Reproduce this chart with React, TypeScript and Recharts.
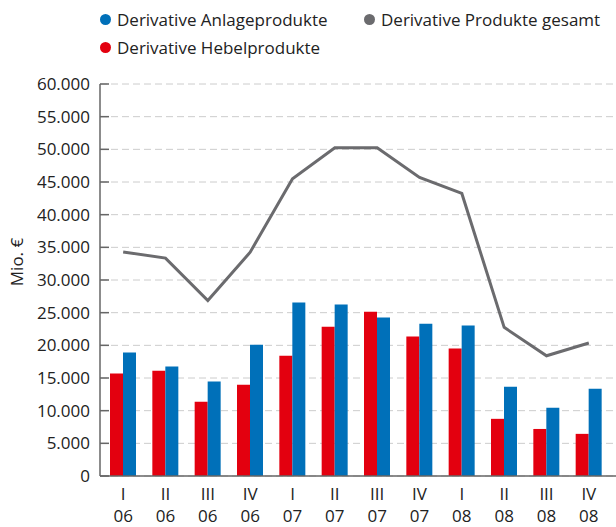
import React from 'react';
import { ComposedChart, Bar, Line, XAxis, YAxis, CartesianGrid, Legend } from 'recharts';

const quarters = ['I', 'II', 'III', 'IV', 'I', 'II', 'III', 'IV', 'I', 'II', 'III', 'IV'];
const years = ['06', '06', '06', '06', '07', '07', '07', '07', '08', '08', '08', '08'];

const hebel = [15700, 16100, 11350, 13950, 18400, 22850, 25150, 21350, 19500, 8750, 7200, 6450];
const anlage = [18900, 16750, 14450, 20100, 26550, 26250, 24250, 23300, 23050, 13650, 10450, 13350];
const gesamt = [34300, 33350, 26850, 34250, 45500, 50250, 50250, 45700, 43250, 22750, 18400, 20350];

const yTicks = [0, 5000, 10000, 15000, 20000, 25000, 30000, 35000, 40000, 45000, 50000, 55000, 60000];

const RED = '#e3000f';
const BLUE = '#0070b9';
const GRAY = '#6b6b6e';
const AXIS = '#666666';
const FONT = '"Open Sans", sans-serif';

const data = quarters.map((q, i) => ({
  cat: `${q}\n${years[i]}`,
  hebel: hebel[i],
  anlage: anlage[i],
  gesamt: gesamt[i],
}));

const fmt = (v: number) => String(v).replace(/\B(?=(\d{3})+(?!\d))/g, '.');

const YTick = (props: any) => {
  const { x, y, payload } = props;
  return (
    <g>
      <line x1={x + 10} x2={x + 19} y1={y} y2={y} stroke={AXIS} strokeWidth={1.5} />
      <text x={x} y={y} dy={6} textAnchor="end" fill="#222" fontSize={17} fontFamily={FONT}>
        {fmt(payload.value)}
      </text>
    </g>
  );
};

const XTick = (props: any) => {
  const { x, y, payload } = props;
  const [q, yr] = String(payload.value).split('\n');
  return (
    <g>
      <text x={x} y={y + 24} textAnchor="middle" fill="#222" fontSize={17} fontFamily={FONT}>{q}</text>
      <text x={x} y={y + 46} textAnchor="middle" fill="#222" fontSize={17} fontFamily={FONT}>{yr}</text>
    </g>
  );
};

const legendItems = [
  { label: 'Derivative Anlageprodukte', color: BLUE },
  { label: 'Derivative Produkte gesamt', color: GRAY },
  { label: 'Derivative Hebelprodukte', color: RED },
];

const LegendBox = () => (
  <div
    style={{
      height: 84,
      paddingLeft: 100,
      display: 'grid',
      gridTemplateColumns: '264px auto',
      gridAutoRows: '28px',
      paddingTop: 5,
      boxSizing: 'border-box',
      fontFamily: FONT,
      fontSize: 17,
      color: '#222',
    }}
  >
    {legendItems.map((it) => (
      <div key={it.label} style={{ display: 'flex', alignItems: 'center', whiteSpace: 'nowrap' }}>
        <span
          style={{
            display: 'inline-block',
            width: 11,
            height: 11,
            borderRadius: '50%',
            background: it.color,
            marginRight: 6,
          }}
        />
        {it.label}
      </div>
    ))}
  </div>
);

const YLabel = (props: any) => {
  const { viewBox } = props;
  const cx = viewBox.x + 16;
  const cy = viewBox.y + viewBox.height / 2 - 18;
  return (
    <text
      x={cx}
      y={cy}
      transform={`rotate(-90 ${cx} ${cy})`}
      textAnchor="middle"
      dominantBaseline="central"
      fill="#222"
      fontSize={17}
      fontFamily={FONT}
    >
      Mio. €
    </text>
  );
};

export default function App() {
  return (
    <div style={{ position: 'absolute', left: 0, top: 0, width: 616, height: 527, background: '#fff' }}>
      <ComposedChart
        width={616}
        height={527}
        data={data}
        margin={{ top: 0, right: 0, bottom: 0, left: 0 }}
        barGap={0}
      >
        <Legend
          verticalAlign="top"
          align="left"
          wrapperStyle={{ top: 0, left: 0, width: 616 }}
          content={() => <LegendBox />}
        />
        <CartesianGrid vertical={false} stroke="#cccccc" strokeDasharray="7 4" />
        <XAxis
          dataKey="cat"
          height={51}
          padding={{ left: 2, right: 6 }}
          tickLine={false}
          tickSize={0}
          tickMargin={0}
          axisLine={{ stroke: AXIS, strokeWidth: 1.5 }}
          tick={<XTick />}
          interval={0}
        />
        <YAxis
          width={100}
          domain={[0, 60000]}
          ticks={yTicks}
          tickLine={false}
          tickSize={0}
          tickMargin={10}
          axisLine={{ stroke: AXIS, strokeWidth: 1.5 }}
          tick={<YTick />}
          interval={0}
          label={<YLabel />}
        />
        <Bar dataKey="hebel" fill={RED} barSize={13} isAnimationActive={false} />
        <Bar dataKey="anlage" fill={BLUE} barSize={13} isAnimationActive={false} />
        <Line
          type="linear"
          dataKey="gesamt"
          stroke={GRAY}
          strokeWidth={3}
          dot={false}
          isAnimationActive={false}
        />
      </ComposedChart>
    </div>
  );
}
